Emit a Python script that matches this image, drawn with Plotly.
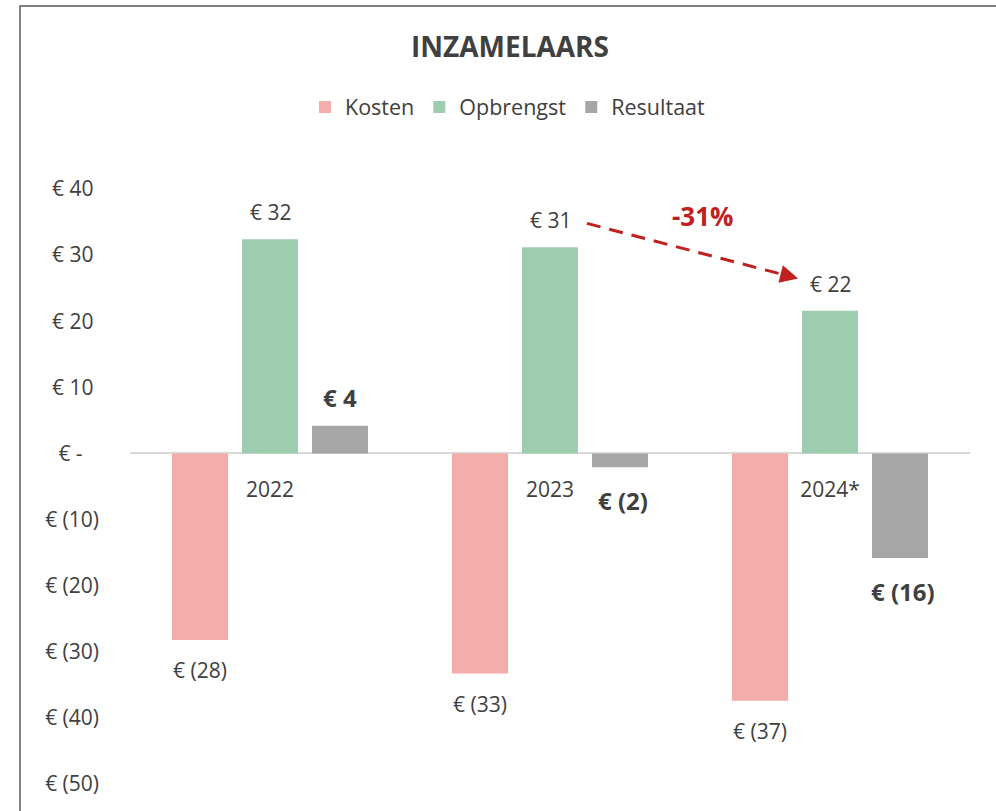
import plotly.graph_objects as go

# ---------------- data ----------------
years = ["2022", "2023", "2024*"]
kosten = [-28.2, -33.3, -37.4]
opbrengst = [32.4, 31.2, 21.6]
resultaat = [4.2, -2.1, -15.8]
series_names = ["Kosten", "Opbrengst", "Resultaat"]
y_ticks = [40, 30, 20, 10, 0, -10, -20, -30, -40, -50]
title_text = "INZAMELAARS"

# ---------------- style ----------------
colors = ["#F4ADAA", "#9DCDAE", "#A6A6A6"]
FONT = "Open Sans"
TXT = "#404040"
RED = "#C0211F"
NB = "\u00a0"
Y_MIN, Y_MAX = -50, 40

W, H = 996, 811
ML, MR, MT, MB = 130, 26, 189, 27
PW = W - ML - MR
PH = H - MT - MB


def tick_eur(v):
    r = int(round(v))
    if r == 0:
        return "€ -" + NB * 3
    if r < 0:
        return f"€ ({abs(r)})"
    return f"€ {r}" + NB


def lab_eur(v):
    r = int(round(v))
    if r < 0:
        return f"€ ({abs(r)})"
    return f"€ {r}"


fig = go.Figure()
all_vals = [kosten, opbrengst, resultaat]
for name, vals, col in zip(series_names, all_vals, colors):
    fig.add_trace(go.Bar(
        name=name, x=years, y=vals,
        marker=dict(color=col, line=dict(width=0)),
        hoverinfo="x+y+name",
    ))

annotations = []
slot_offsets = [-0.25, 0.0, 0.25]
for si, (vals, off) in enumerate(zip(all_vals, slot_offsets)):
    bold = si == 2
    for i, v in enumerate(vals):
        annotations.append(dict(
            x=i + off, y=v, xref="x", yref="y",
            text=(f"<b>{lab_eur(v)}</b>" if bold else lab_eur(v)),
            showarrow=False,
            xshift=(3 if (bold and v < 0) else 0),
            yanchor="bottom" if v >= 0 else "top",
            yshift=((10 if bold else 11) if v >= 0 else (-15 if bold else -14)),
            font=dict(family=FONT, size=(24 if bold else 21), color=TXT),
        ))

# change arrow 2023 -> 2024 opbrengst
pct = round((opbrengst[2] - opbrengst[1]) / opbrengst[1] * 100)
sx, sy = 1.132, opbrengst[1] + 3.6
ex, ey = 1.886, opbrengst[2] + 4.87
bx, by = 1.837, opbrengst[2] + 5.4
annotations.append(dict(
    x=ex, y=ey, ax=bx, ay=by, xref="x", yref="y", axref="x", ayref="y",
    text="", showarrow=True, arrowhead=2, arrowsize=1.2, arrowwidth=3,
    arrowcolor=RED,
))
annotations.append(dict(
    x=1.546, y=opbrengst[1] + 4.7, xref="x", yref="y",
    text=f"<b>{pct}%</b>", showarrow=False,
    font=dict(family=FONT, size=26, color=RED),
))

shapes = [
    dict(type="line", xref="x", yref="y", x0=sx, y0=sy, x1=bx, y1=by,
         line=dict(color=RED, width=3, dash="14px,9px")),
    dict(type="rect", xref="paper", yref="paper",
         x0=(20 - ML) / PW, x1=1.2, y0=-0.2, y1=(MT + PH - 6) / PH,
         line=dict(color="#595959", width=1.5), fillcolor="rgba(0,0,0,0)",
         layer="below"),
]

fig.update_layout(
    width=W, height=H,
    margin=dict(l=ML, r=MR, t=MT, b=MB, pad=0),
    paper_bgcolor="white", plot_bgcolor="white",
    barmode="group", bargap=0.25, bargroupgap=0.2,
    font=dict(family=FONT, size=21, color=TXT),
    title=dict(text=f"<b>{title_text}</b>", x=510 / W, xanchor="center",
               y=1 - 47 / H, yanchor="middle", xref="container", yref="container",
               font=dict(family=FONT, size=28, color=TXT)),
    legend=dict(orientation="h", x=(508 - ML) / PW, xanchor="center",
                y=(MT + PH - 107) / PH, yanchor="middle",
                font=dict(family=FONT, size=21.5, color=TXT),
                bgcolor="rgba(0,0,0,0)", itemclick=False, itemdoubleclick=False),
    xaxis=dict(type="category", anchor="free",
               position=(0 - Y_MIN) / (Y_MAX - Y_MIN),
               showline=False, showgrid=False, zeroline=False, ticks="",
               ticklabelstandoff=22,
               tickfont=dict(family=FONT, size=21, color=TXT)),
    yaxis=dict(range=[Y_MIN, Y_MAX], tickvals=y_ticks,
               ticktext=[tick_eur(v) for v in y_ticks],
               showgrid=False, showline=False, ticks="",
               zeroline=True, zerolinecolor="#D9D9D9", zerolinewidth=2,
               ticklabelstandoff=30,
               tickfont=dict(family=FONT, size=21, color=TXT)),
    annotations=annotations,
    shapes=shapes,
)

fig.write_html("out.html", config={"displayModeBar": False},
               post_script="document.body.style.margin='0';")
